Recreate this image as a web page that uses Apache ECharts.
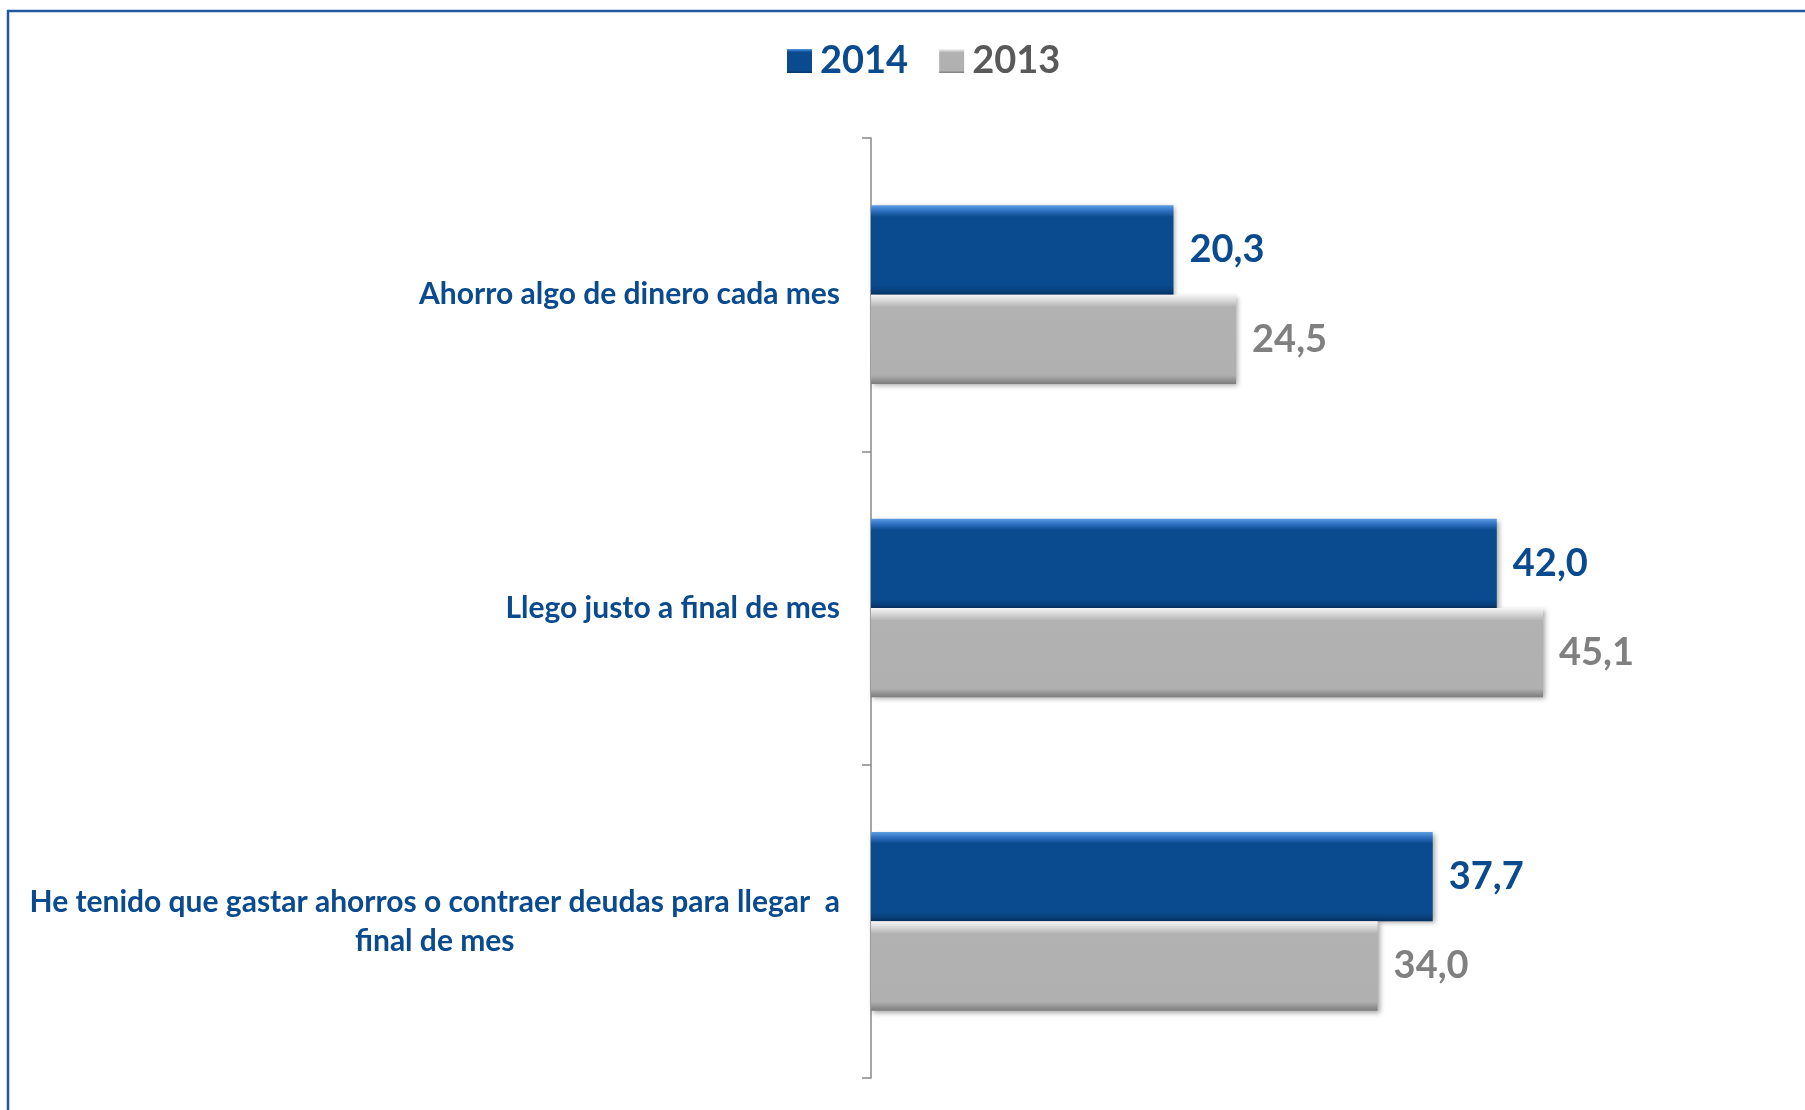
<!DOCTYPE html>
<html>
<head>
<meta charset="utf-8">
<script src="https://cdn.jsdelivr.net/npm/echarts@6/dist/echarts.min.js"></script>
<style>
  html, body { margin: 0; padding: 0; background: #ffffff; }
  #chart { width: 1805px; height: 1110px; }
</style>
</head>
<body>
<div id="chart"></div>
<script>
const categories = [
  'Ahorro algo de dinero cada mes',
  'Llego justo a final de mes',
  'He tenido que gastar ahorros o contraer deudas para llegar  a\nfinal de mes'
];
const seriesNames = ['2014', '2013'];
const values2014 = [20.3, 42.0, 37.7];
const values2013 = [24.5, 45.1, 34.0];

const BLUE = '#0a4a8e';
const GRAY_LABEL = '#808080';
const FONT = 'Lato';

const chart = echarts.init(document.getElementById('chart'), null, { renderer: 'canvas' });

const blueFill = new echarts.graphic.LinearGradient(0, 0, 0, 1, [
  { offset: 0, color: '#5c9de2' },
  { offset: 0.06, color: '#2f72c2' },
  { offset: 0.13, color: '#0a4a8e' },
  { offset: 0.9, color: '#0a4a8e' },
  { offset: 0.96, color: '#083f7a' },
  { offset: 1, color: '#06305f' }
]);
const grayFill = new echarts.graphic.LinearGradient(0, 0, 0, 1, [
  { offset: 0, color: '#f6f6f6' },
  { offset: 0.07, color: '#d6d6d6' },
  { offset: 0.14, color: '#b2b2b2' },
  { offset: 0.9, color: '#b0b0b0' },
  { offset: 0.96, color: '#919191' },
  { offset: 1, color: '#7c7c7c' }
]);

function fmt(p) { return p.value.toFixed(1).replace('.', ','); }

const option = {
  backgroundColor: '#ffffff',
  animation: false,
  graphic: [{
    type: 'rect',
    shape: { x: 8, y: 11, width: 3000, height: 3000 },
    style: { fill: 'none', stroke: '#1f5aa0', lineWidth: 2.5 },
    silent: true
  }],
  legend: {
    left: 782,
    top: 37,
    itemWidth: 25,
    itemHeight: 24,
    itemGap: 31,
    icon: 'rect',
    textStyle: { fontFamily: FONT, fontWeight: 'bold', fontSize: 38, padding: [0, 0, 0, 3] },
    data: [
      { name: seriesNames[0], textStyle: { color: BLUE } },
      { name: seriesNames[1], textStyle: { color: '#595959' } }
    ]
  },
  grid: { left: 871, right: 40, top: 138, bottom: 32, containLabel: false },
  xAxis: {
    type: 'value', min: 0, max: 60, show: false
  },
  yAxis: {
    type: 'category',
    inverse: true,
    data: categories,
    axisLine: { show: true, lineStyle: { color: '#888888', width: 1.5 } },
    axisTick: { show: true, length: 9, lineStyle: { color: '#888888', width: 1.5 } },
    axisLabel: {
      margin: 31,
      color: BLUE,
      fontFamily: FONT,
      fontWeight: 'bold',
      fontSize: 30,
      lineHeight: 39,
      formatter: function (v) {
        if (v.indexOf('\n') < 0) return v;
        return v.split('\n').map(function (s) { return '{c|' + s + '}'; }).join('\n');
      },
      rich: {
        c: { align: 'center', color: BLUE, fontFamily: FONT, fontWeight: 'bold', fontSize: 30, lineHeight: 39 }
      }
    }
  },
  series: [
    {
      name: seriesNames[0],
      type: 'bar',
      data: values2014,
      barGap: '0%',
      barCategoryGap: '43%',
      itemStyle: {
        color: blueFill,
        shadowColor: 'rgba(0,0,0,0.35)', shadowBlur: 5, shadowOffsetX: 2, shadowOffsetY: 2
      },
      label: {
        show: true, position: 'right', distance: 16, formatter: fmt,
        color: BLUE, fontFamily: FONT, fontWeight: 'bold', fontSize: 38
      }
    },
    {
      name: seriesNames[1],
      type: 'bar',
      data: values2013,
      barGap: '0%',
      barCategoryGap: '43%',
      itemStyle: {
        color: grayFill,
        shadowColor: 'rgba(0,0,0,0.35)', shadowBlur: 5, shadowOffsetX: 2, shadowOffsetY: 2
      },
      label: {
        show: true, position: 'right', distance: 16, formatter: fmt,
        color: GRAY_LABEL, fontFamily: FONT, fontWeight: 'bold', fontSize: 38
      }
    }
  ]
};

chart.setOption(option);
</script>
</body>
</html>
